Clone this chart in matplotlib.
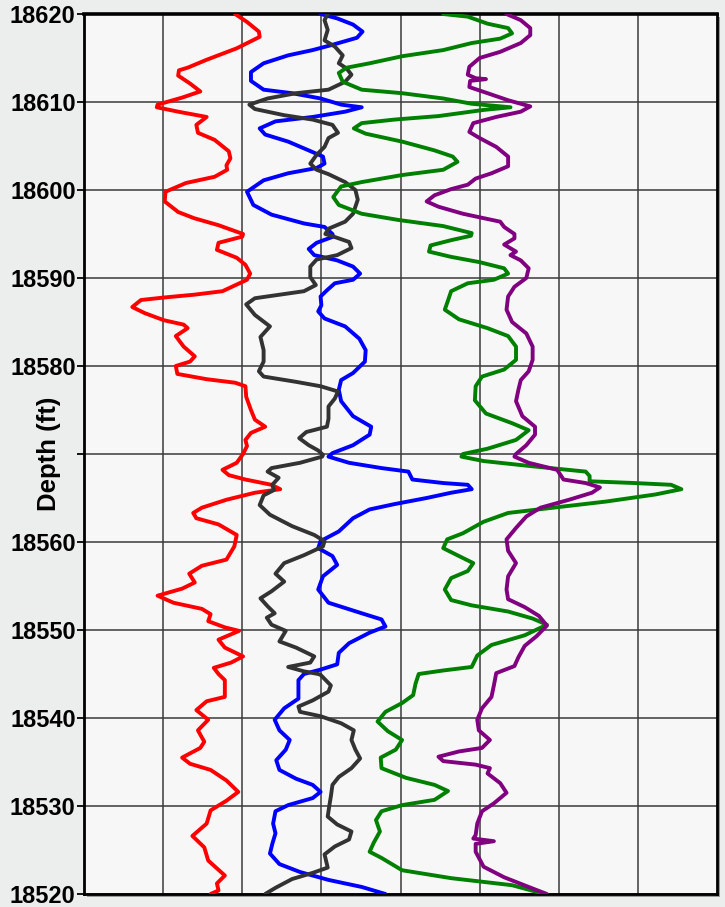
import matplotlib
matplotlib.use('Agg')
import matplotlib.pyplot as plt
from matplotlib.patches import Rectangle

plt.rcParams['font.family'] = ['Liberation Sans', 'DejaVu Sans']

# Log curves: depth (ft) and track value (0-8 track units)
red_depth = [18620.0, 18619.1, 18618.0, 18617.4, 18616.1, 18614.8, 18613.9, 18613.6, 18613.0, 18612.1,
             18611.2, 18610.5, 18609.7, 18609.4, 18608.9, 18608.3, 18607.4, 18606.5, 18605.7, 18604.4,
             18603.6, 18602.8, 18602.3, 18601.5, 18600.8, 18599.8, 18598.7, 18597.5, 18596.8, 18596.0,
             18595.0, 18594.7, 18594.0, 18593.2, 18592.3, 18591.5, 18590.5, 18589.8, 18588.5, 18588.1,
             18587.8, 18587.5, 18586.7, 18586.0, 18585.2, 18584.7, 18584.3, 18583.4, 18582.2, 18581.1,
             18580.5, 18580.0, 18579.1, 18578.5, 18578.1, 18577.7, 18576.5, 18575.0, 18573.9, 18573.1,
             18572.4, 18571.6, 18570.9, 18570.0, 18569.0, 18568.2, 18567.6, 18567.1, 18566.5, 18566.0,
             18565.6, 18564.8, 18563.9, 18563.3, 18562.7, 18562.0, 18560.8, 18559.5, 18558.0, 18557.3,
             18556.4, 18555.4, 18554.7, 18553.9, 18553.1, 18552.4, 18551.8, 18551.0, 18550.3, 18549.9,
             18548.9, 18548.0, 18547.0, 18546.3, 18545.7, 18545.0, 18544.3, 18542.4, 18541.9, 18540.9,
             18539.8, 18538.6, 18537.3, 18536.6, 18535.5, 18534.8, 18534.1, 18532.9, 18531.6, 18530.6,
             18529.5, 18528.0, 18526.6, 18525.3, 18523.8, 18522.1, 18521.2, 18520.4, 18520.0]
red_val = [1.91, 2.06, 2.21, 2.22, 1.93, 1.55, 1.31, 1.20, 1.19, 1.34,
           1.47, 1.24, 0.93, 0.92, 1.19, 1.55, 1.42, 1.44, 1.65, 1.83,
           1.85, 1.80, 1.81, 1.65, 1.29, 1.03, 1.02, 1.19, 1.39, 1.70,
           2.01, 2.00, 1.70, 1.68, 1.93, 2.04, 2.10, 2.06, 1.75, 1.39,
           1.03, 0.72, 0.61, 0.77, 1.01, 1.26, 1.31, 1.16, 1.26, 1.40,
           1.34, 1.16, 1.18, 1.55, 1.91, 2.04, 2.05, 2.11, 2.16, 2.29,
           2.11, 2.04, 2.06, 2.01, 1.93, 1.75, 1.83, 2.04, 2.37, 2.48,
           2.16, 1.80, 1.49, 1.38, 1.42, 1.70, 1.93, 1.90, 1.80, 1.49,
           1.33, 1.40, 1.24, 0.93, 1.13, 1.49, 1.60, 1.57, 1.78, 1.96,
           1.70, 1.78, 2.01, 1.86, 1.64, 1.70, 1.78, 1.78, 1.55, 1.42,
           1.57, 1.44, 1.52, 1.47, 1.24, 1.34, 1.60, 1.80, 1.95, 1.80,
           1.60, 1.55, 1.37, 1.52, 1.57, 1.78, 1.68, 1.70, 1.60]

blue_depth = [18620.0, 18619.5, 18618.8, 18618.0, 18617.3, 18616.5, 18615.9, 18615.3, 18614.4, 18613.4,
              18612.4, 18611.4, 18611.0, 18610.4, 18609.7, 18609.4, 18608.9, 18608.3, 18607.8, 18607.0,
              18606.3, 18605.5, 18604.5, 18603.8, 18603.0, 18602.5, 18601.9, 18601.1, 18599.8, 18598.3,
              18597.2, 18596.2, 18595.8, 18595.0, 18594.7, 18594.0, 18593.3, 18592.6, 18592.0, 18591.3,
              18590.5, 18589.8, 18589.4, 18588.6, 18587.9, 18586.9, 18586.2, 18585.4, 18584.5, 18583.1,
              18581.8, 18580.5, 18579.2, 18578.4, 18577.3, 18576.0, 18574.3, 18573.1, 18572.2, 18571.0,
              18570.1, 18569.7, 18569.0, 18568.4, 18568.0, 18567.1, 18566.7, 18566.5, 18566.0, 18565.6,
              18565.0, 18564.3, 18563.7, 18562.7, 18561.2, 18560.1, 18559.3, 18558.4, 18557.4, 18556.1,
              18554.6, 18553.1, 18551.9, 18551.2, 18550.4, 18549.7, 18548.5, 18547.4, 18546.1, 18545.5,
              18545.0, 18544.3, 18542.2, 18541.1, 18539.8, 18538.6, 18537.5, 18536.4, 18535.2, 18534.1,
              18533.1, 18532.4, 18531.6, 18530.9, 18530.1, 18529.4, 18528.0, 18526.9, 18525.7, 18524.6,
              18523.4, 18522.5, 18521.6, 18520.8, 18520.0]
blue_val = [2.99, 3.20, 3.40, 3.52, 3.45, 3.14, 2.89, 2.58, 2.27, 2.11,
            2.11, 2.27, 2.63, 2.99, 3.25, 3.51, 3.30, 2.89, 2.42, 2.22,
            2.29, 2.58, 2.84, 3.02, 3.04, 2.94, 2.58, 2.27, 2.06, 2.14,
            2.37, 2.78, 3.04, 3.14, 3.15, 2.94, 2.84, 2.91, 3.20, 3.40,
            3.49, 3.40, 3.17, 3.07, 2.99, 3.00, 2.96, 3.04, 3.30, 3.48,
            3.56, 3.55, 3.40, 3.25, 3.22, 3.25, 3.40, 3.63, 3.61, 3.40,
            3.14, 3.09, 3.35, 3.76, 4.10, 4.15, 4.54, 4.85, 4.90, 4.64,
            4.33, 3.92, 3.61, 3.40, 3.22, 2.99, 2.96, 3.14, 3.20, 3.02,
            2.96, 3.09, 3.51, 3.76, 3.81, 3.61, 3.35, 3.22, 3.20, 2.99,
            2.78, 2.71, 2.71, 2.53, 2.41, 2.47, 2.60, 2.55, 2.43, 2.47,
            2.68, 2.89, 2.99, 2.89, 2.58, 2.42, 2.39, 2.42, 2.38, 2.35,
            2.47, 2.73, 3.09, 3.51, 3.81]

black_depth = [18620.0, 18619.3, 18618.2, 18617.0, 18616.3, 18615.3, 18614.4, 18613.8, 18613.1, 18612.3,
               18611.4, 18611.0, 18610.4, 18609.7, 18609.2, 18608.5, 18608.0, 18607.4, 18606.5, 18605.9,
               18604.9, 18604.0, 18603.0, 18602.3, 18601.8, 18600.9, 18600.0, 18598.9, 18597.3, 18596.4,
               18595.6, 18595.0, 18594.9, 18594.1, 18593.4, 18592.6, 18592.1, 18591.3, 18590.1, 18589.2,
               18588.5, 18588.1, 18587.7, 18587.0, 18585.8, 18584.5, 18583.3, 18581.8, 18580.5, 18579.4,
               18578.8, 18578.2, 18577.7, 18577.1, 18576.3, 18575.4, 18574.0, 18573.1, 18572.5, 18571.8,
               18571.0, 18570.4, 18569.9, 18569.7, 18569.0, 18568.4, 18568.0, 18567.3, 18566.5, 18565.9,
               18565.3, 18564.2, 18563.1, 18561.8, 18560.8, 18560.1, 18559.5, 18558.5, 18557.6, 18556.4,
               18555.5, 18554.4, 18553.6, 18552.7, 18551.9, 18551.4, 18550.6, 18549.9, 18548.7, 18548.0,
               18547.0, 18546.3, 18545.8, 18545.3, 18545.0, 18544.9, 18543.7, 18543.0, 18542.0, 18541.3,
               18540.7, 18540.2, 18539.4, 18538.6, 18537.5, 18536.4, 18535.4, 18534.3, 18533.3, 18532.4,
               18531.1, 18530.0, 18528.8, 18527.9, 18527.1, 18526.2, 18525.4, 18524.5, 18523.0, 18522.4,
               18521.7, 18520.7, 18520.0]
black_val = [3.08, 3.04, 3.08, 3.04, 3.17, 3.27, 3.22, 3.32, 3.38, 3.30,
             3.09, 2.68, 2.32, 2.09, 2.16, 2.53, 2.89, 3.14, 3.21, 3.09,
             3.04, 2.94, 2.86, 2.94, 3.09, 3.30, 3.43, 3.46, 3.40, 3.30,
             3.09, 3.05, 3.09, 3.35, 3.38, 3.20, 2.94, 2.86, 2.86, 2.93,
             2.78, 2.47, 2.16, 2.05, 2.16, 2.35, 2.23, 2.27, 2.27, 2.21,
             2.27, 2.68, 2.99, 3.21, 3.17, 3.09, 3.09, 3.07, 2.81, 2.72,
             2.84, 2.96, 3.02, 3.01, 2.73, 2.37, 2.32, 2.46, 2.38, 2.40,
             2.27, 2.22, 2.35, 2.63, 2.91, 3.04, 3.02, 2.78, 2.53, 2.42,
             2.53, 2.37, 2.23, 2.32, 2.41, 2.31, 2.37, 2.55, 2.47, 2.68,
             2.91, 2.86, 2.58, 2.78, 2.96, 2.99, 3.12, 3.09, 2.89, 2.71,
             2.73, 2.99, 3.25, 3.41, 3.38, 3.43, 3.49, 3.38, 3.22, 3.14,
             3.12, 3.10, 3.08, 3.20, 3.38, 3.35, 3.17, 3.04, 3.08, 2.89,
             2.63, 2.42, 2.29]

green_depth = [18620.0, 18619.7, 18618.9, 18618.4, 18617.8, 18617.2, 18616.7, 18615.9, 18615.2, 18614.4,
               18613.9, 18613.3, 18612.3, 18611.4, 18611.0, 18610.4, 18609.8, 18609.4, 18609.1, 18608.4,
               18608.0, 18607.6, 18607.0, 18606.4, 18605.5, 18604.5, 18603.8, 18603.2, 18602.3, 18601.7,
               18600.9, 18600.4, 18599.2, 18598.3, 18597.3, 18596.6, 18595.9, 18595.1, 18594.8, 18594.3,
               18593.7, 18593.0, 18592.4, 18591.8, 18591.1, 18590.5, 18589.8, 18589.4, 18588.5, 18587.7,
               18586.4, 18585.3, 18584.3, 18583.4, 18582.2, 18580.7, 18579.6, 18578.8, 18577.7, 18576.1,
               18574.6, 18573.5, 18572.7, 18571.6, 18570.6, 18570.0, 18569.7, 18569.2, 18568.6, 18568.0,
               18567.5, 18566.9, 18566.7, 18566.5, 18566.0, 18565.4, 18564.6, 18563.9, 18563.3, 18562.3,
               18561.0, 18560.3, 18559.3, 18558.4, 18557.6, 18556.7, 18555.9, 18554.6, 18553.4, 18552.8,
               18552.1, 18551.3, 18550.6, 18549.4, 18548.3, 18547.1, 18545.8, 18545.4, 18545.0, 18543.9,
               18542.6, 18541.7, 18540.7, 18539.6, 18538.5, 18537.5, 18536.4, 18535.5, 18534.3, 18533.2,
               18532.4, 18531.7, 18530.7, 18530.1, 18529.4, 18528.4, 18527.1, 18525.8, 18524.8, 18524.1,
               18522.7, 18521.8, 18521.0, 18520.0]
green_val = [4.54, 4.85, 5.10, 5.36, 5.41, 5.26, 4.90, 4.54, 4.02, 3.61,
             3.32, 3.22, 3.27, 3.51, 4.02, 4.54, 4.90, 5.39, 5.05, 4.48,
             3.92, 3.51, 3.41, 3.56, 4.02, 4.43, 4.66, 4.72, 4.54, 4.02,
             3.51, 3.25, 3.15, 3.22, 3.51, 3.97, 4.54, 4.90, 4.89, 4.64,
             4.38, 4.36, 4.64, 5.00, 5.31, 5.36, 5.18, 4.85, 4.64, 4.61,
             4.56, 4.74, 5.10, 5.36, 5.46, 5.46, 5.31, 5.03, 4.95, 4.94,
             5.08, 5.41, 5.62, 5.46, 5.10, 4.79, 4.77, 5.05, 5.67, 6.34,
             6.39, 6.39, 6.96, 7.42, 7.55, 7.22, 6.60, 5.93, 5.36, 5.05,
             4.79, 4.59, 4.54, 4.74, 4.92, 4.85, 4.64, 4.56, 4.64, 4.90,
             5.36, 5.67, 5.85, 5.57, 5.15, 4.97, 4.90, 4.54, 4.23, 4.19,
             4.16, 4.02, 3.81, 3.71, 3.84, 4.02, 3.94, 3.75, 3.76, 4.07,
             4.43, 4.60, 4.43, 4.02, 3.76, 3.69, 3.74, 3.66, 3.61, 3.76,
             4.02, 4.64, 5.41, 5.82]

purple_depth = [18620.0, 18619.3, 18618.4, 18617.6, 18616.7, 18615.7, 18615.0, 18614.0, 18613.1, 18612.7,
                18612.6, 18612.4, 18611.7, 18611.0, 18610.2, 18609.5, 18608.9, 18608.3, 18607.6, 18606.6,
                18605.9, 18604.9, 18603.8, 18602.7, 18601.9, 18601.3, 18600.6, 18600.1, 18599.4, 18598.7,
                18598.1, 18597.3, 18596.8, 18596.4, 18595.8, 18595.0, 18594.5, 18593.8, 18593.0, 18592.6,
                18592.0, 18591.1, 18590.0, 18589.0, 18587.9, 18586.4, 18585.0, 18583.7, 18582.2, 18580.7,
                18579.4, 18578.4, 18577.3, 18576.0, 18574.3, 18573.1, 18572.2, 18571.0, 18570.0, 18569.7,
                18569.0, 18568.2, 18567.1, 18566.7, 18566.2, 18565.6, 18564.8, 18563.9, 18562.9, 18561.6,
                18560.3, 18559.0, 18557.6, 18556.1, 18554.6, 18553.5, 18552.6, 18551.6, 18550.5, 18549.3,
                18548.2, 18546.9, 18545.9, 18545.1, 18543.7, 18542.4, 18541.1, 18539.8, 18538.6, 18537.5,
                18536.6, 18536.2, 18535.6, 18535.1, 18534.7, 18534.3, 18533.7, 18532.6, 18531.5, 18530.3,
                18529.4, 18528.0, 18526.7, 18526.3, 18526.0, 18525.7, 18524.8, 18523.1, 18521.9, 18520.8,
                18520.0]
purple_val = [5.34, 5.52, 5.64, 5.64, 5.52, 5.26, 5.00, 4.87, 4.85, 4.95,
              5.08, 4.88, 4.87, 5.10, 5.36, 5.64, 5.52, 5.21, 4.92, 4.87,
              5.00, 5.21, 5.36, 5.36, 5.15, 4.95, 4.85, 4.64, 4.43, 4.33,
              4.48, 4.79, 5.05, 5.26, 5.31, 5.44, 5.44, 5.31, 5.46, 5.39,
              5.52, 5.62, 5.59, 5.44, 5.36, 5.34, 5.41, 5.59, 5.67, 5.67,
              5.62, 5.52, 5.49, 5.46, 5.54, 5.70, 5.70, 5.59, 5.46, 5.44,
              5.62, 5.98, 6.06, 6.34, 6.52, 6.42, 6.13, 5.77, 5.59, 5.46,
              5.34, 5.36, 5.46, 5.36, 5.34, 5.36, 5.57, 5.75, 5.85, 5.72,
              5.57, 5.49, 5.44, 5.21, 5.18, 5.15, 5.03, 4.97, 4.99, 5.13,
              5.03, 4.74, 4.48, 4.54, 4.95, 5.13, 5.10, 5.26, 5.34, 5.18,
              5.03, 4.97, 4.95, 4.92, 5.18, 4.95, 4.95, 5.05, 5.31, 5.62,
              5.85]

depth_ticks = [18520, 18530, 18540, 18550, 18560, 18570, 18580, 18590, 18600, 18610, 18620]
depth_labels = ['18520', '18530', '18540', '18550', '18560', '', '18580', '18590', '18600', '18610', '18620']

W, H = 725, 907
fig = plt.figure(figsize=(W / 100, H / 100), dpi=100)
fig.patch.set_facecolor('#ECEEED')

left, right, top, bottom = 84, 717, 14, 894
# drop shadow behind the track
fig.patches.append(Rectangle(((left + 3) / W, 1 - (bottom + 3) / H), (right - left) / W, (bottom - top) / H,
                             transform=fig.transFigure, facecolor='#9A9A9A', edgecolor='none', zorder=-5))
ax = fig.add_axes([left / W, 1 - bottom / H, (right - left) / W, (bottom - top) / H])
ax.set_zorder(1)
ax.set_facecolor('#F7F7F7')

curves = [
    (red_val, red_depth, '#FF0000'),
    (blue_val, blue_depth, '#0000FF'),
    (black_val, black_depth, '#333333'),
    (green_val, green_depth, '#008000'),
    (purple_val, purple_depth, '#800080'),
]
for vals, dep, col in curves:
    ax.plot(vals, dep, color=col, lw=2.8, solid_joinstyle='round', solid_capstyle='round', zorder=3)

ax.set_xlim(0, 8)
ax.set_ylim(18520, 18620)
ax.set_xticks(range(1, 8))
ax.set_yticks(depth_ticks)
ax.set_yticklabels(depth_labels, fontsize=17, fontweight='bold')
ax.tick_params(axis='x', length=0, labelbottom=False)
ax.tick_params(axis='y', length=5, width=1.3, pad=1, direction='out')
ax.grid(True, color='#3A3A3A', lw=1.1, zorder=1)
ax.set_axisbelow(True)

for s in ax.spines.values():
    s.set_color('black')
    s.set_linewidth(2)
ax.spines['top'].set_linewidth(2.6)

ax.set_ylabel('Depth (ft)', fontsize=18.5, fontweight='bold')
ax.yaxis.set_label_coords(-0.036, 0.5)

fig.savefig('out.png', dpi=100, facecolor=fig.get_facecolor())
